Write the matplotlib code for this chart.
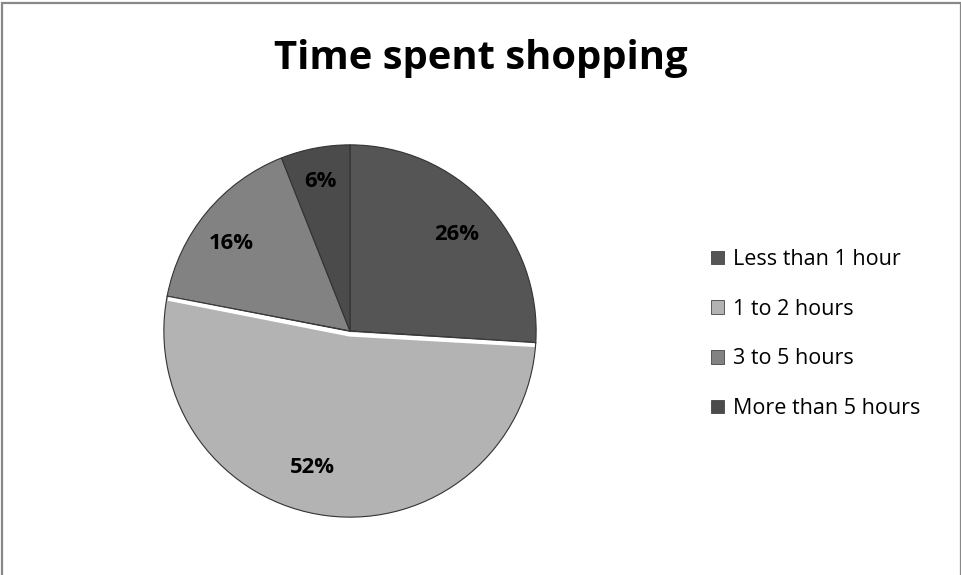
import matplotlib.pyplot as plt
import numpy as np
from matplotlib.patches import Rectangle

# time spent shopping, share of respondents
categories = ['Less than 1 hour', '1 to 2 hours', '3 to 5 hours', 'More than 5 hours']
shares = [26, 52, 16, 6]
colors = ['#555555', '#b3b3b3', '#828282', '#4b4b4b']

# data label spots inside each slice (axes units, radius = 1)
label_xy = [(0.574, 0.521), (-0.202, -0.734), (-0.638, 0.468), (-0.160, 0.803)]

plt.rcParams['font.family'] = ['Open Sans', 'DejaVu Sans']

W, H = 962, 575
fig = plt.figure(figsize=(W / 100, H / 100), dpi=100)
fig.patch.set_facecolor('white')

# thin gray frame round the chart area
fig.add_artist(Rectangle((1.5 / W, -0.01), (W - 2.5) / W, 1 - 2.5 / H + 0.01,
                         transform=fig.transFigure, fill=False,
                         edgecolor='#888888', linewidth=1.6))

fig.text(0.5, 1 - 59 / H, 'Time spent shopping', ha='center', va='center',
         fontsize=28.8, fontweight='bold', color='black')

cx, cy, r = 350, 331, 188
ax = fig.add_axes([(cx - r) / W, (H - cy - r) / H, 2 * r / W, 2 * r / H])
wedges, texts, autotexts = ax.pie(
    shares, colors=colors, startangle=90, counterclock=False,
    autopct='%d%%', pctdistance=0.77, radius=1,
    wedgeprops=dict(edgecolor='#333333', linewidth=0.8),
    textprops=dict(fontsize=15.8, fontweight='bold', color='black'))

for t, (x, y) in zip(autotexts, label_xy):
    t.set_position((x, y))

# white highlight along the straight edges of the pale slice
w = wedges[1]
a1, a2 = np.radians(w.theta1), np.radians(w.theta2)
inset = 0.012
hx = [0.995 * np.cos(a1), inset * np.cos((a1 + a2) / 2), 0.995 * np.cos(a2)]
hy = [0.995 * np.sin(a1) - inset, -inset * 1.5, 0.995 * np.sin(a2) - inset]
ax.plot(hx, hy, color='white', linewidth=3.2, solid_capstyle='butt',
        solid_joinstyle='round', zorder=3)
ax.plot([np.cos(a1), 0, np.cos(a2)], [np.sin(a1), 0, np.sin(a2)],
        color='#3a3a3a', linewidth=0.8, zorder=4)

ax.set_xlim(-1.01, 1.01)
ax.set_ylim(-1.01, 1.01)
ax.set_aspect('equal')
ax.axis('off')

leg = fig.legend(wedges, categories, loc='center left',
                 bbox_to_anchor=(702 / W, 1 - 334 / H), frameon=False,
                 borderaxespad=0, fontsize=15.5, handlelength=0.6,
                 handleheight=0.6, handletextpad=0.42, labelspacing=1.33)
for h in leg.legend_handles:
    h.set_edgecolor('#444444')
    h.set_linewidth(0.6)

fig.savefig('out.png', dpi=100, facecolor='white')
